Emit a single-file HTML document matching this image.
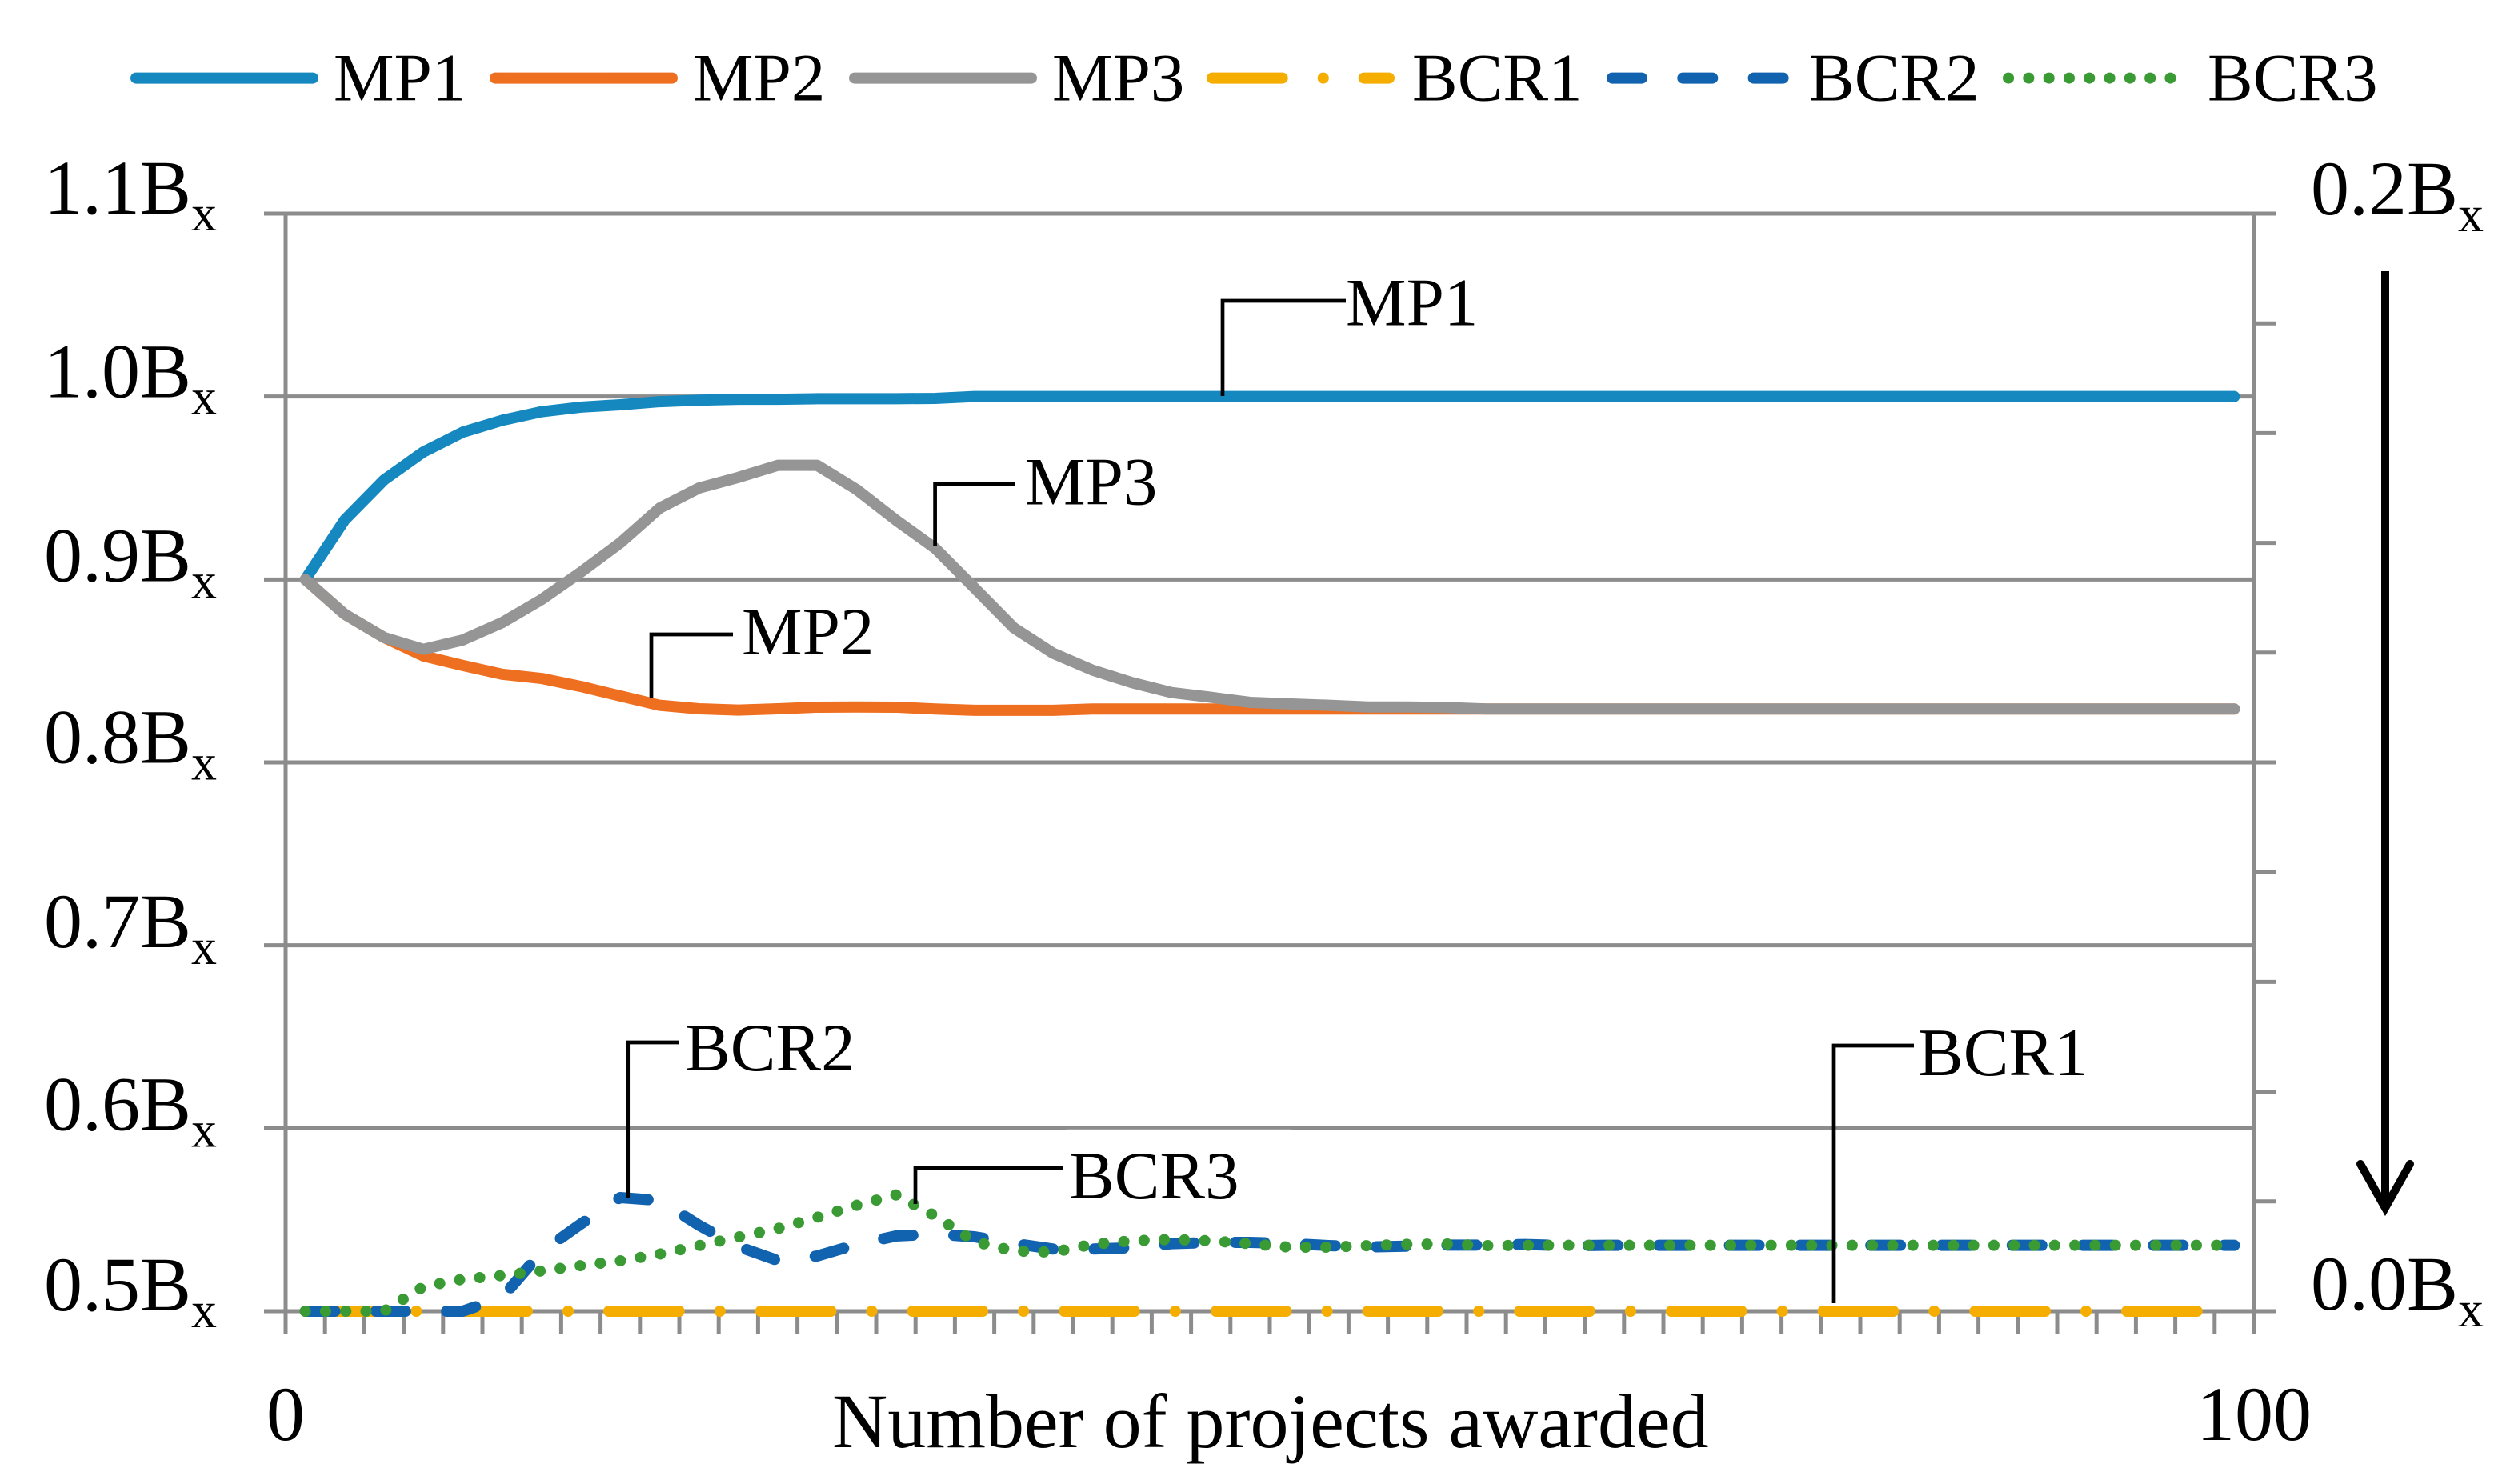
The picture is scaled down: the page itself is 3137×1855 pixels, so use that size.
<!DOCTYPE html>
<html lang="en">
<head>
<meta charset="utf-8">
<title>Number of projects awarded chart</title>
<style>
html,body{margin:0;padding:0;background:#fff;}
#chart{display:block;width:3137px;height:1855px;background:#fff;font-family:"Liberation Serif",serif;fill:#000;}
.lab{font-size:85px;}
.tick{font-size:96px;}
.lead{fill:none;stroke:#000;stroke-width:4.7;}
.sw{fill:none;stroke-width:14;stroke-linecap:round;}
</style>
</head>
<body>
<svg id="chart" xmlns="http://www.w3.org/2000/svg" width="3137" height="1855" viewBox="0 0 3137 1855">
  <g id="axes"></g>
  <g id="series"></g>

  <g>
    <g>
      <line class="sw" x1="170" y1="97.6" x2="391" y2="97.6" stroke="#1589bf"/>
      <text class="lab" x="417" y="125.5">MP1</text>
    </g>
    <g>
      <line class="sw" x1="619" y1="97.6" x2="840" y2="97.6" stroke="#ee6f1f"/>
      <text class="lab" x="866" y="125.5">MP2</text>
    </g>
    <g>
      <line class="sw" x1="1068" y1="97.6" x2="1289" y2="97.6" stroke="#959595"/>
      <text class="lab" x="1315" y="125.5">MP3</text>
    </g>
    <g>
      <line class="sw" x1="1515" y1="97.6" x2="1736" y2="97.6" stroke="#f5ad00" stroke-dasharray="87.7 51 0.1 50.9"/>
      <text class="lab" x="1765" y="125.5">BCR1</text>
    </g>
    <g>
      <line class="sw" x1="2015" y1="97.6" x2="2229" y2="97.6" stroke="#1163b0" stroke-dasharray="37 51.3"/>
      <text class="lab" x="2261" y="125.5">BCR2</text>
    </g>
    <g>
      <line class="sw" x1="2510" y1="97.6" x2="2713.5" y2="97.6" stroke="#3a9b34" stroke-dasharray="0.1 25.2"/>
      <text class="lab" x="2759" y="125.5">BCR3</text>
    </g>
  </g>

  <g>
    <path class="lead" d="M1528 495V376H1682"/>
    <text class="lab" x="1682" y="406.4">MP1</text>
    <path class="lead" d="M814 872.7V793H916"/>
    <text class="lab" x="927" y="818">MP2</text>
    <path class="lead" d="M1168.6 683V605H1269"/>
    <text class="lab" x="1281" y="630.7">MP3</text>
    <path class="lead" d="M2292 1629V1307H2392"/>
    <text class="lab" x="2397" y="1344">BCR1</text>
    <path class="lead" d="M784.7 1498V1303H848.5"/>
    <text class="lab" x="856" y="1338">BCR2</text>
    <path class="lead" d="M1144 1505V1460H1329"/>
    <text class="lab" x="1336" y="1498">BCR3</text>
  </g>

  <g>
    <line x1="2981" y1="339" x2="2981" y2="1505" stroke="#000" stroke-width="10"/>
    <path d="M2950 1455L2981 1510L3012 1455" fill="none" stroke="#000" stroke-width="10" stroke-linecap="round" stroke-miterlimit="10"/>
  </g>

  <text class="tick" x="1040" y="1809">Number of projects awarded</text>
</svg>

<script>
// ---- chart data ----
var categories = [1,3,5,7,9,11,13,15,17,19,21,23,25,27,29,31,33,35,37,39,41,43,45,47,49,51,53,55,57,59,61,63,65,67,69,71,73,75,77,79,81,83,85,87,89,91,93,95,97,99];

var mp1 = [0.9,0.9325,0.9544,0.9697,0.9805,0.987,0.9917,0.9942,0.9955,0.9972,0.998,0.9985,0.9985,0.9988,0.9988,0.9988,0.999,1,1,1,1,1,1,1,1,1,1,1,1,1,1,1,1,1,1,1,1,1,1,1,1,1,1,1,1,1,1,1,1,1];
var mp2 = [0.9,0.881,0.8683,0.8582,0.853,0.8482,0.8459,0.8415,0.8363,0.8312,0.8293,0.8286,0.8293,0.8302,0.8303,0.8302,0.8292,0.8285,0.8285,0.8285,0.8292,0.8292,0.8292,0.8292,0.8292,0.8292,0.8292,0.8292,0.8292,0.8292,0.8292,0.8292,0.8292,0.8292,0.8292,0.8292,0.8292,0.8292,0.8292,0.8292,0.8292,0.8292,0.8292,0.8292,0.8292,0.8292,0.8292,0.8292,0.8292,0.8292];
var mp3 = [0.9,0.881,0.8683,0.8618,0.8669,0.8764,0.889,0.904,0.92,0.939,0.95,0.9558,0.9624,0.9624,0.9492,0.9325,0.917,0.8953,0.8735,0.8596,0.8504,0.8436,0.8382,0.8356,0.8328,0.832,0.8312,0.8303,0.8303,0.83,0.8292,0.8292,0.8292,0.8292,0.8292,0.8292,0.8292,0.8292,0.8292,0.8292,0.8292,0.8292,0.8292,0.8292,0.8292,0.8292,0.8292,0.8292,0.8292,0.8292];
var bcr1 = [0,0,0,0,0,0,0,0,0,0,0,0,0,0,0,0,0,0,0,0,0,0,0,0,0,0,0,0,0,0,0,0,0,0,0,0,0,0,0,0,0,0,0,0,0,0,0,0,0,0];
var bcr2 = [0,0,0,0,0,0.0025,0.0108,0.0159,0.0207,0.02017,0.01565,0.01176,0.00923,0.01006,0.01215,0.0137,0.01404,0.01356,0.01234,0.01132,0.01132,0.01156,0.01229,0.01254,0.01254,0.01234,0.01195,0.01171,0.01185,0.01205,0.01205,0.01215,0.01195,0.012,0.012,0.012,0.012,0.012,0.012,0.012,0.012,0.012,0.012,0.012,0.012,0.012,0.012,0.012,0.012,0.012];
var bcr3 = [0,0,0,0.00447,0.00583,0.00651,0.00734,0.00831,0.00918,0.0104,0.01195,0.01351,0.01506,0.0171,0.01929,0.02119,0.01735,0.01268,0.01098,0.01074,0.0122,0.01283,0.01307,0.01283,0.01229,0.01166,0.01166,0.01195,0.0122,0.01224,0.01195,0.012,0.012,0.012,0.012,0.012,0.012,0.012,0.012,0.012,0.012,0.012,0.012,0.012,0.012,0.012,0.012,0.012,0.012,0.012];

var leftTickValues = [0.5,0.6,0.7,0.8,0.9,1.0,1.1];
var leftTickLabels = ["0.5B","0.6B","0.7B","0.8B","0.9B","1.0B","1.1B"];
var rightTickValues = [0,0.02,0.04,0.06,0.08,0.1,0.12,0.14,0.16,0.18,0.2];
var rightEndValues = [0,0.2];
var rightEndLabels = ["0.0B","0.2B"];
var xEndValues = [0,100];
var xEndLabels = ["0","100"];

(function(){
  var NS = "http://www.w3.org/2000/svg";
  var axes = document.getElementById("axes");
  var group = document.getElementById("series");
  var GRID = "#8c8c8c";
  var leftLabelNudge = [-1,2,2.5,0.5,2,1,0];

  // axis functions
  var plotLeft = 357, plotRight = 2817, plotBottom = 1639, plotTop = 267;
  function xValue(v){ return plotLeft + (v / 100) * (plotRight - plotLeft); }
  function yLeft(v){ return plotBottom - ((v - 0.5) / 0.6) * (plotBottom - plotTop); }
  function yRight(v){ return plotBottom - (v / 0.2) * (plotBottom - plotTop); }

  function line(parent, x1, y1, x2, y2, w){
    var l = document.createElementNS(NS, "line");
    l.setAttribute("x1", x1);
    l.setAttribute("y1", y1);
    l.setAttribute("x2", x2);
    l.setAttribute("y2", y2);
    l.setAttribute("stroke", GRID);
    l.setAttribute("stroke-width", w);
    parent.appendChild(l);
    return l;
  }
  function label(parent, x, y, main, sub){
    var t = document.createElementNS(NS, "text");
    t.setAttribute("class", "tick");
    t.setAttribute("x", x);
    t.setAttribute("y", y);
    t.textContent = main;
    if (sub) {
      var s = document.createElementNS(NS, "tspan");
      s.setAttribute("dy", "21");
      s.setAttribute("font-size", "64");
      s.textContent = sub;
      t.appendChild(s);
    }
    parent.appendChild(t);
    return t;
  }

  // horizontal gridlines + left labels
  leftTickValues.forEach(function(v, i){
    var edge = (i === 0 || i === leftTickValues.length - 1);
    var g = line(axes, 330, yLeft(v), edge ? 2845 : plotRight, yLeft(v), 5);
    
    
    var t = label(axes, 55, yLeft(v) + leftLabelNudge[i], leftTickLabels[i], "x");
    
    
  });

  // vertical axes
  var la = line(axes, plotLeft, plotTop, plotLeft, 1667, 5);
  
  
  var ra = line(axes, plotRight, plotTop, plotRight, 1667, 5);
  
  

  // right ticks and labels
  rightTickValues.forEach(function(v){
    var k = line(axes, plotRight, yRight(v), 2845, yRight(v), 5);
    
    
  });
  rightEndValues.forEach(function(v, i){
    var t = label(axes, 2888, yRight(v) + (i === 0 ? -2 : 1), rightEndLabels[i], "x");
    
    
  });

  // x ticks between the categories
  categories.forEach(function(c){
    var k = line(axes, xValue(c - 1), plotBottom, xValue(c - 1), 1667, 5);
    
    
  });
  xEndValues.forEach(function(v, i){
    var t = label(axes, xValue(v), 1800, xEndLabels[i]);
    t.setAttribute("text-anchor", "middle");
    
    
  });

  // white label box that slightly clips the 0.6 gridline
  var box = document.createElementNS(NS, "rect");
  box.setAttribute("x", 1334);
  box.setAttribute("y", 1411.8);
  box.setAttribute("width", 280);
  box.setAttribute("height", 2);
  box.setAttribute("fill", "#fff");
  
  
  axes.appendChild(box);

  // series
  function draw(values, yFn, color, dash){
    var d = values.map(function(v, i){
      return (i ? "L" : "M") + xValue(categories[i]).toFixed(2) + " " + yFn(v).toFixed(2);
    }).join("");
    var p = document.createElementNS(NS, "path");
    p.setAttribute("d", d);
    p.setAttribute("fill", "none");
    p.setAttribute("stroke", color);
    p.setAttribute("stroke-width", 14);
    p.setAttribute("stroke-linecap", "round");
    p.setAttribute("stroke-linejoin", "round");
    if (dash) p.setAttribute("stroke-dasharray", dash);
    group.appendChild(p);
    return p;
  }
  var s1 = draw(mp1, yLeft, "#1589bf");
  
  
  var s2 = draw(mp2, yLeft, "#ee6f1f");
  
  
  var s3 = draw(mp3, yLeft, "#959595");
  
  
  var s4 = draw(bcr1, yRight, "#f5ad00", "87.7 51 0.1 50.9");
  
  
  var s5 = draw(bcr2, yRight, "#1163b0", "37 51.3");
  
  
  var s6 = draw(bcr3, yRight, "#3a9b34", "0.1 25.2");
  
  
})();
</script>
</body>
</html>
